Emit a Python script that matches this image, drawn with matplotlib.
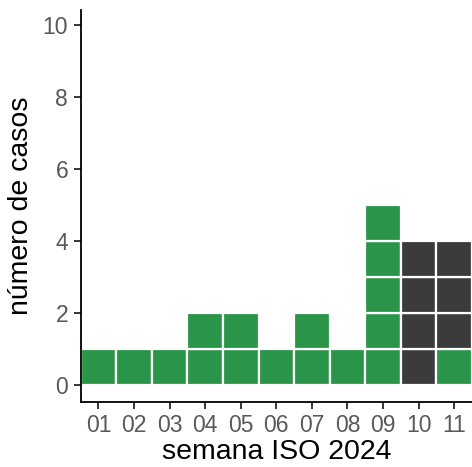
import numpy as np
import matplotlib
matplotlib.use("Agg")
import matplotlib.pyplot as plt

plt.rcParams['font.family'] = ['Liberation Sans', 'DejaVu Sans']

semanas = ["01", "02", "03", "04", "05", "06", "07", "08", "09", "10", "11"]
casos_verde = [1, 1, 1, 2, 2, 1, 2, 1, 5, 0, 1]
casos_gris = [0, 0, 0, 0, 0, 0, 0, 0, 0, 4, 3]

verde = "#2a9548"
gris = "#3b3b3b"

fig = plt.figure(figsize=(4.72, 4.67), dpi=100)
ax = fig.add_axes([0.171, 0.140, 0.829, 0.839])

x = np.arange(1, len(semanas) + 1)
# one tile per case, green at bottom then dark
for i in range(len(semanas)):
    for k in range(casos_verde[i]):
        ax.bar(x[i], 1, bottom=k, width=1.0, color=verde,
               edgecolor="white", linewidth=1.6)
    for k in range(casos_gris[i]):
        ax.bar(x[i], 1, bottom=casos_verde[i] + k, width=1.0, color=gris,
               edgecolor="white", linewidth=1.6)

ax.set_xlim(0.5, 11.5)
ax.set_ylim(-0.45, 10.43)
ax.set_xticks(x)
ax.set_xticklabels(semanas)
ax.set_yticks([0, 2, 4, 6, 8, 10])

for s in ["top", "right"]:
    ax.spines[s].set_visible(False)
for s in ["left", "bottom"]:
    ax.spines[s].set_linewidth(1.3)
    ax.spines[s].set_color("black")

ax.tick_params(axis="both", direction="out", length=5, width=1.1,
               color="black", labelcolor="#595959", labelsize=16.5, pad=4)

ax.set_xlabel("semana ISO 2024", fontsize=20.5, color="black", labelpad=1)
ax.set_ylabel("número de casos", fontsize=20.5, color="black", labelpad=6)

fig.savefig("out.png", dpi=100)
